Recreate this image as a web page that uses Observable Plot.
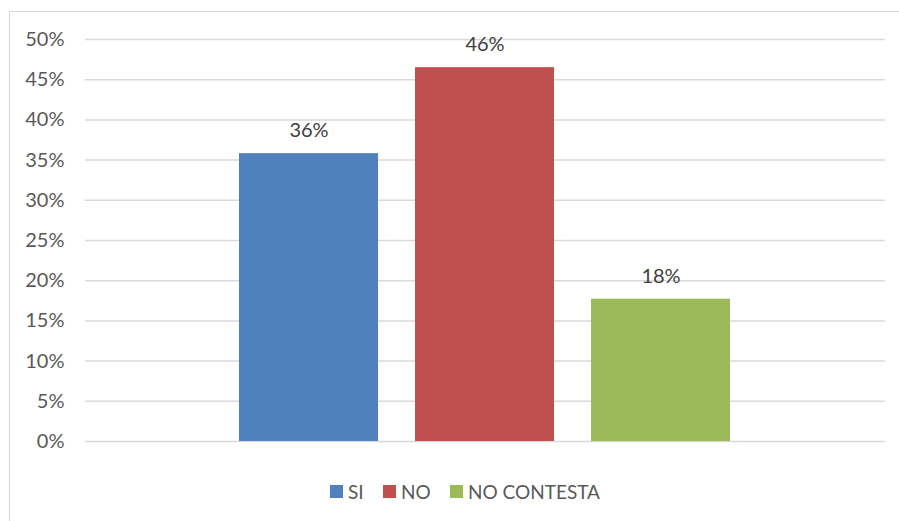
<!DOCTYPE html>
<html>
<head>
<meta charset="utf-8">
<script src="https://cdn.jsdelivr.net/npm/d3@7"></script>
<script src="https://cdn.jsdelivr.net/npm/@observablehq/plot@0.6"></script>
<style>
  html, body { margin: 0; padding: 0; background: #fff; }
  #wrap { position: relative; width: 899px; height: 521px; overflow: hidden; font-family: Lato, "Open Sans", sans-serif; }
  #border { position: absolute; left: 9px; top: 11px; width: 940px; height: 560px; border: 1.5px solid #d9d9d9; box-sizing: border-box; }
  #chart { position: absolute; left: 0; top: 0; }
  #legend { position: absolute; left: 0; top: 470px; width: 899px; height: 51px; }
  .item { position: absolute; top: 9px; display: flex; align-items: center; font-size: 19px; color: #595959; height: 24px; }
  .sw { width: 13px; height: 13px; margin-right: 5px; }
</style>
</head>
<body>
<div id="wrap">
  <div id="border"></div>
  <div id="chart"></div>
  <div id="legend"></div>
</div>
<script>
const categories = ["SI", "NO", "NO CONTESTA"];
const values = [0.358, 0.465, 0.177];
const labels = ["36%", "46%", "18%"];
const colors = ["#4f81bd", "#c0504d", "#9bbb59"];
const yTicks = [0, 0.05, 0.10, 0.15, 0.20, 0.25, 0.30, 0.35, 0.40, 0.45, 0.50];

const data = categories.map((c, i) => ({cat: c, value: values[i], label: labels[i]}));

const chart = Plot.plot({
  width: 899,
  height: 470,
  marginTop: 39,
  marginBottom: 29,
  marginLeft: 85,
  marginRight: 14,
  style: { background: "transparent", fontFamily: "Lato, 'Open Sans', sans-serif" },
  x: { type: "band", domain: categories, range: [219.5, 749.5], paddingInner: 0.209, paddingOuter: 0.1045, axis: null },
  y: { domain: [0, 0.5], ticks: yTicks, tickFormat: d3.format(".0%"), label: null },
  color: { domain: categories, range: colors },
  marks: [
    Plot.ruleY(yTicks, { stroke: "#d9d9d9", strokeWidth: 1.5 }),
    Plot.axisY({ ticks: yTicks, tickFormat: d3.format(".0%"), tickSize: 0, tickPadding: 21, fontSize: 20, color: "#595959", label: null }),
    Plot.barY(data, { x: "cat", y: "value", fill: "cat" }),
    Plot.text(data, { x: "cat", y: "value", text: "label", dy: -23, fontSize: 20, fill: "#404040" })
  ]
});
document.getElementById("chart").appendChild(chart);

const legendPos = [330, 383, 450];
const legend = document.getElementById("legend");
categories.forEach((c, i) => {
  const it = document.createElement("div");
  it.className = "item";
  it.style.left = legendPos[i] + "px";
  const sw = document.createElement("div");
  sw.className = "sw";
  sw.style.background = colors[i];
  it.appendChild(sw);
  const t = document.createElement("span");
  t.textContent = c;
  it.appendChild(t);
  legend.appendChild(it);
});
</script>
</body>
</html>
